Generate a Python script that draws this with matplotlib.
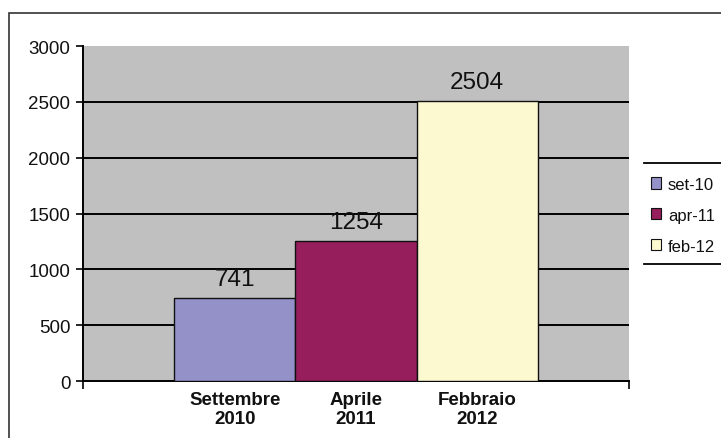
import matplotlib.pyplot as plt
from matplotlib.patches import Rectangle
from matplotlib.lines import Line2D

plt.rcParams['font.family'] = ['Liberation Sans', 'DejaVu Sans']

# Dati: iscritti per periodo
series = ["set-10", "apr-11", "feb-12"]
periods = ["Settembre\n2010", "Aprile\n2011", "Febbraio\n2012"]
values = [741, 1254, 2504]
colors = ["#9391C7", "#961E5C", "#FCF8D0"]
yticks = [0, 500, 1000, 1500, 2000, 2500, 3000]

fig = plt.figure(figsize=(7.21, 4.39), dpi=100)
fig.patch.set_facecolor("white")

# cornice esterna
fig.patches.append(Rectangle((0.0125, -0.5), 1.5, 1.468, transform=fig.transFigure,
                             fill=False, edgecolor="#333333", linewidth=1.2))

ax = fig.add_axes([0.1151, 0.1298, 0.7573, 0.7631])
ax.set_facecolor("#C0C0C0")

x = list(range(len(values)))
for i in x:
    ax.bar(i, values[i], width=1.0, color=colors[i], edgecolor="#111111",
           linewidth=1.0, zorder=3, label=series[i])
    ax.text(i, values[i] + 75, str(values[i]), ha="center", va="bottom",
            fontsize=17.5, color="#111111", zorder=4)

# griglia orizzontale
ax.hlines(yticks[1:-1], -1.256, 3.256, colors="black", linewidth=1.4, zorder=1)

ax.set_xlim(-1.256, 3.256)
ax.set_ylim(0, 3000)
ax.set_yticks(yticks)
ax.set_yticklabels([str(v) for v in yticks], fontsize=13.5, color="#111111")
ax.tick_params(axis="y", direction="out", length=5, width=1.2, pad=4)

ax.set_xticks(x)
ax.set_xticklabels(periods, fontsize=13.5, fontweight="bold", color="#111111",
                   linespacing=1.15)
ax.tick_params(axis="x", which="major", length=0, pad=7)
ax.set_xticks([-1.256, 3.256], minor=True)
ax.tick_params(axis="x", which="minor", direction="out", length=6, width=1.2)

for side in ["top", "right"]:
    ax.spines[side].set_visible(False)
for side in ["left", "bottom"]:
    ax.spines[side].set_linewidth(1.4)
    ax.spines[side].set_color("black")

leg = fig.legend(loc="upper left", bbox_to_anchor=(0.893, 0.61), frameon=False,
                 fontsize=12, handlelength=0.65, handleheight=0.65,
                 handletextpad=0.4, labelspacing=0.95, borderaxespad=0,
                 labelcolor="#111111")
for h in leg.legend_handles:
    h.set_linewidth(0.8)

# linee sopra e sotto la legenda
fig.add_artist(Line2D([0.893, 1.0], [0.626, 0.626], transform=fig.transFigure,
                      color="black", linewidth=1.3))
fig.add_artist(Line2D([0.893, 1.0], [0.396, 0.396], transform=fig.transFigure,
                      color="black", linewidth=1.3))

fig.savefig("out.png", dpi=100)
